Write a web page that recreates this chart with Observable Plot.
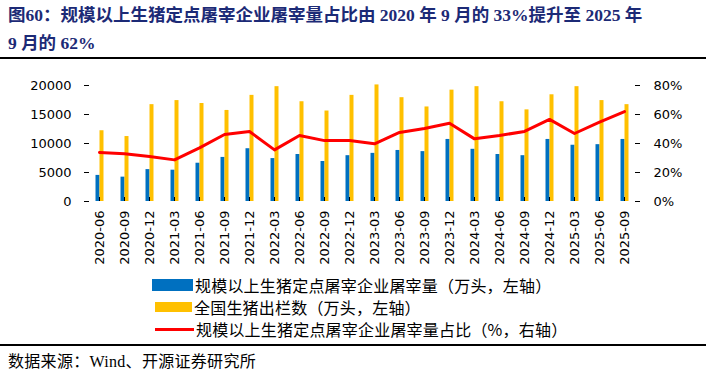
<!DOCTYPE html>
<html><head><meta charset="utf-8">
<script src="https://cdn.jsdelivr.net/npm/d3@7"></script>
<script src="https://cdn.jsdelivr.net/npm/@observablehq/plot@0.6"></script>
<style>
body{margin:0;width:710px;height:370px;position:relative;background:#fff;overflow:hidden}
#title{position:absolute;left:8px;top:1px;font:bold 17.5px/28px "Liberation Serif","Noto Sans CJK SC",serif;color:#1c2a76;white-space:nowrap}
.hr{position:absolute;left:0;width:706px;height:2px;background:#000}
#chart{position:absolute;left:0;top:60px}
.leg{position:absolute;left:152px;height:20px;display:flex;align-items:center;font:16px "Noto Sans CJK SC",sans-serif;letter-spacing:0.2px;color:#000;white-space:nowrap}
.sw{width:41px;margin-right:2px}
#foot{position:absolute;left:8px;top:351px;font:16px/22px "Liberation Serif","Noto Sans CJK SC",serif;letter-spacing:0.3px;color:#000;white-space:nowrap}
</style></head>
<body>
<div id="title">图60：规模以上生猪定点屠宰企业屠宰量占比由 2020 年 9 月的 33%提升至 2025 年<br>9 月的 62%</div>
<div class="hr" style="top:57px"></div>
<div id="chart"></div>
<div class="leg" style="top:275px"><div class="sw" style="height:12px;background:#0070C0"></div><span>规模以上生猪定点屠宰企业屠宰量（万头，左轴）</span></div>
<div class="leg" style="top:297px"><div class="sw" style="height:10px;background:#FFC000;margin-left:3px;width:37px"></div><span>全国生猪出栏数（万头，左轴）</span></div>
<div class="leg" style="top:319px"><div class="sw" style="height:3px;background:#FF0000;margin-left:3px;width:39px"></div><span>规模以上生猪定点屠宰企业屠宰量占比（%，右轴）</span></div>
<div class="hr" style="top:344px"></div>
<div id="foot">数据来源：Wind、开源证券研究所</div>
<script>
const dates = ["2020-06","2020-09","2020-12","2021-03","2021-06","2021-09","2021-12","2022-03","2022-06","2022-09","2022-12","2023-03","2023-06","2023-09","2023-12","2024-03","2024-06","2024-09","2024-12","2025-03","2025-06","2025-09"];
const slaughter = [4500,4200,5500,5400,6600,7600,9100,7400,8100,6900,7900,8300,8800,8600,10700,9000,8100,7900,10700,9700,9800,10700];
const output = [12200,11200,16700,17400,16900,15700,18300,19800,17200,15600,18300,20100,17900,16300,19200,19800,17200,15800,18400,19800,17400,16700];
const share = [33.8,32.9,31,28.7,37,46.2,48.3,35.6,45.5,42,42,39.8,47.6,50.3,54,43.2,45.5,48.3,56.6,46.9,54.7,62];
const leftTicks = [0,5000,10000,15000,20000];
const rightTicks = [0,20,40,60,80];

const K = 20000/80;
const data = dates.map((d,i)=>({date:d, slaughter:slaughter[i], output:output[i], share:share[i]}));
const chart = Plot.plot({
  width:710, height:210, marginLeft:84, marginRight:71, marginTop:25, marginBottom:69,
  style:{fontFamily:"DejaVu Sans", fontSize:"13px", color:"#000", background:"#fff"},
  x:{type:"point", domain:dates, padding:0.175},
  y:{domain:[0,20000]},
  marks:[
    Plot.ruleX(data,{x:"date", y1:0, y2:"slaughter", stroke:"#0070C0", strokeWidth:4, dx:-2}),
    Plot.ruleX(data,{x:"date", y1:0, y2:"output", stroke:"#FFC000", strokeWidth:4, dx:2}),
    Plot.line(data,{x:"date", y:d=>d.share*K, stroke:"#FF0000", strokeWidth:3}),
    Plot.axisY(leftTicks,{anchor:"left", tickSize:-5, tickPadding:18, line:true, label:null, tickFormat:d=>String(d)}),
    Plot.axisY(rightTicks.map(p=>p*K),{anchor:"right", tickSize:-5, tickPadding:19, line:true, label:null, tickFormat:d=>(d/K)+"%"}),
    Plot.axisX({anchor:"bottom", tickSize:-4, tickPadding:13, tickRotate:-90, line:true, label:null})
  ]
});
document.getElementById("chart").appendChild(chart);
</script>
</body></html>
